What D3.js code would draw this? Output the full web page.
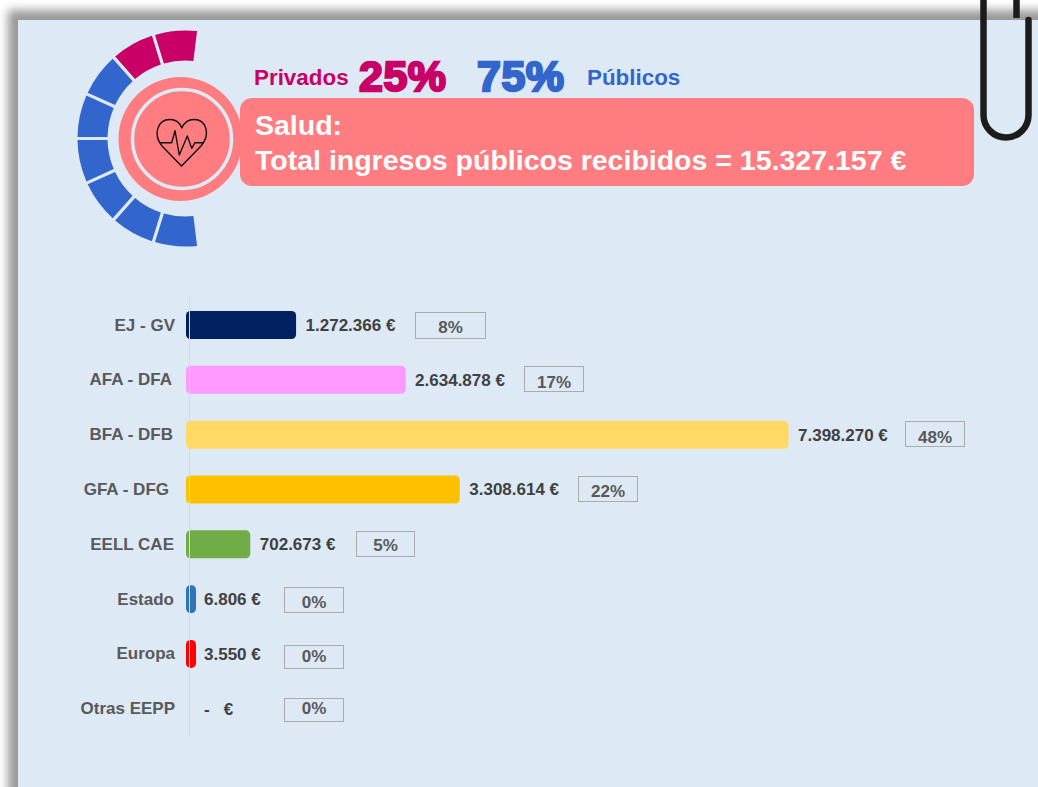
<!DOCTYPE html>
<html lang="es">
<head>
<meta charset="utf-8">
<title>Salud</title>
<script src="https://cdn.jsdelivr.net/npm/d3@7"></script>
<style>
html,body{margin:0;padding:0;background:#fff;width:1038px;height:787px;overflow:hidden}
#panel{position:absolute;left:18px;top:20px;width:1100px;height:900px;background:#DDE9F5;box-shadow:0 0 9px 10px #999}
svg{position:absolute;left:0;top:0}
text{font-family:"Liberation Sans",Arial,sans-serif;font-weight:700;white-space:pre}
</style>
</head>
<body>
<div id="panel"></div>
<svg id="chart" width="1038" height="787"></svg>
<script>
// --- data ---
const categories = ["EJ - GV","AFA - DFA","BFA - DFB","GFA - DFG","EELL CAE","Estado","Europa","Otras EEPP"];
const ingresos = [1272366,2634878,7398270,3308614,702673,6806,3550,0];
const barColors = ["#002060","#FF99FF","#FFD966","#FFC000","#70AD47","#2E75B6","#FF0000","#A5A5A5"];
const shareLabels = ["Privados","Públicos"];
const shareValues = [25,75];
const shareColors = ["#C90066","#3366CC"];
const ringSegments = 8;
const titleLines = ["Salud:","Total ingresos públicos recibidos = 15.327.157 €"];

// --- hand-placed text box offsets of the original (layout only) ---
const labelRight = [175,172,173,169,174,174,175,175];
const boxGap = [118.5,118.5,116.5,118.5,106,88,88,88];
const boxW = [70,59,59,59,58,59,59,59];
const boxTop = [312,366,421,476,531,587,645,698];
const boxH = [26,25,25,25,25,25,23,23];
const pctDy = [1,1,1,1,0,2,1,-2];

const svg = d3.select("#chart");
const total = d3.sum(ingresos);
const locale = d3.formatLocale({decimal:",",thousands:".",grouping:[3],currency:["","€"]});
const fmt = locale.format(",d");
const valueText = v => v === 0 ? "-   €" : fmt(v) + " €";

// --- ring ---
const ringC = [185.5,138.5];
const deg = Math.PI/180;
const segShares = d3.range(ringSegments).map(i => i < ringSegments*shareValues[0]/100 ? 0 : 1);
const pie = d3.pie().value(1).sort(null).startAngle(7*deg).endAngle(-187*deg).padAngle(0.034);
const arc = d3.arc().innerRadius(78).outerRadius(108).padRadius(95);
svg.append("g").attr("transform",`translate(${ringC})`)
  .selectAll("path").data(pie(segShares)).join("path")
  .attr("d",arc).attr("fill",d => shareColors[d.data]);

// --- badge ---
const pink = "#FF7C80";
svg.append("circle").attr("cx",180.5).attr("cy",139).attr("r",62).attr("fill",pink);
svg.append("rect").attr("x",240).attr("y",98).attr("width",734).attr("height",88).attr("rx",12).attr("fill",pink);
svg.append("circle").attr("cx",182).attr("cy",139).attr("r",49.5).attr("fill",pink).attr("stroke","#DDE9F5").attr("stroke-width",3.5);
const icon = svg.append("g").attr("fill","none").attr("stroke","#111").attr("stroke-width",1.4).attr("stroke-linejoin","round");
icon.append("path").attr("d","M181.5,166 L162,146 C153,135 157,119.5 170,119.5 C176,119.5 180,123 181.8,128 C184,123 188,119.5 194,119.5 C207,119.5 210.5,135 201,146 Z");
icon.append("path").attr("d","M160,142.7 L171.7,142.7 L175,130.7 L179.3,155 L187.3,136 L191.7,148.3 L195,142.7 L203.3,142.7");

// --- title ---
svg.selectAll("text.title").data(titleLines).join("text").attr("class","title")
  .attr("x",255).attr("y",(d,i)=>135+i*35).attr("fill","#fff").attr("font-size",28.5).text(d=>d);

// --- shares ---
svg.append("text").attr("x",254).attr("y",85).attr("font-size",22.4).attr("fill",shareColors[0]).text(shareLabels[0]);
svg.append("text").attr("x",587).attr("y",85).attr("font-size",22.4).attr("fill",shareColors[1]).text(shareLabels[1]);
[[shareValues[0],359,0],[shareValues[1],477,1]].forEach(([v,x,i])=>{
  svg.append("text").attr("x",x).attr("y",91).attr("font-size",43).attr("letter-spacing",0.5)
    .attr("fill",shareColors[i]).attr("stroke",shareColors[i]).attr("stroke-width",2.4)
    .text(v+"%");
});

// --- bars ---
const x = d3.scaleLinear().domain([0,d3.max(ingresos)]).range([193.8,788.5]);
const y = d3.scaleBand().domain(categories).range([297.6,736.2]).paddingInner(0.49).paddingOuter(0.245);
const barLeft = 186;
const barEnd = v => Math.max(196, x(v));
const rows = categories.map((c,i)=>({c,i,v:ingresos[i]}));

svg.append("g").selectAll("rect").data(rows.filter(d=>d.v>0)).join("rect")
  .attr("x",barLeft).attr("y",d=>y(d.c)).attr("width",d=>barEnd(d.v)-barLeft).attr("height",y.bandwidth())
  .attr("rx",d=>Math.min(4.5,(barEnd(d.v)-barLeft)/2)).attr("fill",d=>barColors[d.i]);

svg.append("line").attr("x1",189.5).attr("x2",189.5).attr("y1",297).attr("y2",736)
  .attr("stroke","#D9D9D9").attr("stroke-width",1);

const cy = c => y(c)+y.bandwidth()/2;
svg.append("g").selectAll("text").data(rows).join("text")
  .attr("x",d=>labelRight[d.i]).attr("y",d=>cy(d.c)+5.5).attr("text-anchor","end")
  .attr("font-size",17).attr("fill","#595959").text(d=>d.c);

svg.append("g").selectAll("text").data(rows).join("text")
  .attr("x",d=>barEnd(d.v)+(d.v>1e5?9.5:8)).attr("y",d=>cy(d.c)+6).attr("font-size",17).attr("fill","#404040")
  .text(d=>valueText(d.v));

svg.append("g").selectAll("rect").data(rows).join("rect")
  .attr("x",d=>Math.round(barEnd(d.v)+boxGap[d.i])+0.5).attr("y",d=>boxTop[d.i]+0.5).attr("width",d=>boxW[d.i]).attr("height",d=>boxH[d.i])
  .attr("fill","none").attr("stroke","#ABABAB").attr("stroke-width",1);

svg.append("g").selectAll("text").data(rows).join("text")
  .attr("x",d=>Math.round(barEnd(d.v)+boxGap[d.i])+boxW[d.i]/2+0.5).attr("y",d=>cy(d.c)+7+pctDy[d.i]).attr("text-anchor","middle")
  .attr("font-size",17).attr("fill","#595959").text(d=>d3.format(".0f")(d.v/total*100)+"%");

// --- paper clip ---
svg.append("path").attr("d","M983.5,-5 V115 A22.5,22.5 0 0 0 1028.5,115 V20")
  .attr("fill","none").attr("stroke","#1c1c1c").attr("stroke-width",6.5).attr("stroke-linecap","round");
svg.append("line").attr("x1",1016.5).attr("x2",1016.5).attr("y1",-5).attr("y2",18).attr("stroke","#1c1c1c").attr("stroke-width",6.5);
</script>
</body>
</html>
